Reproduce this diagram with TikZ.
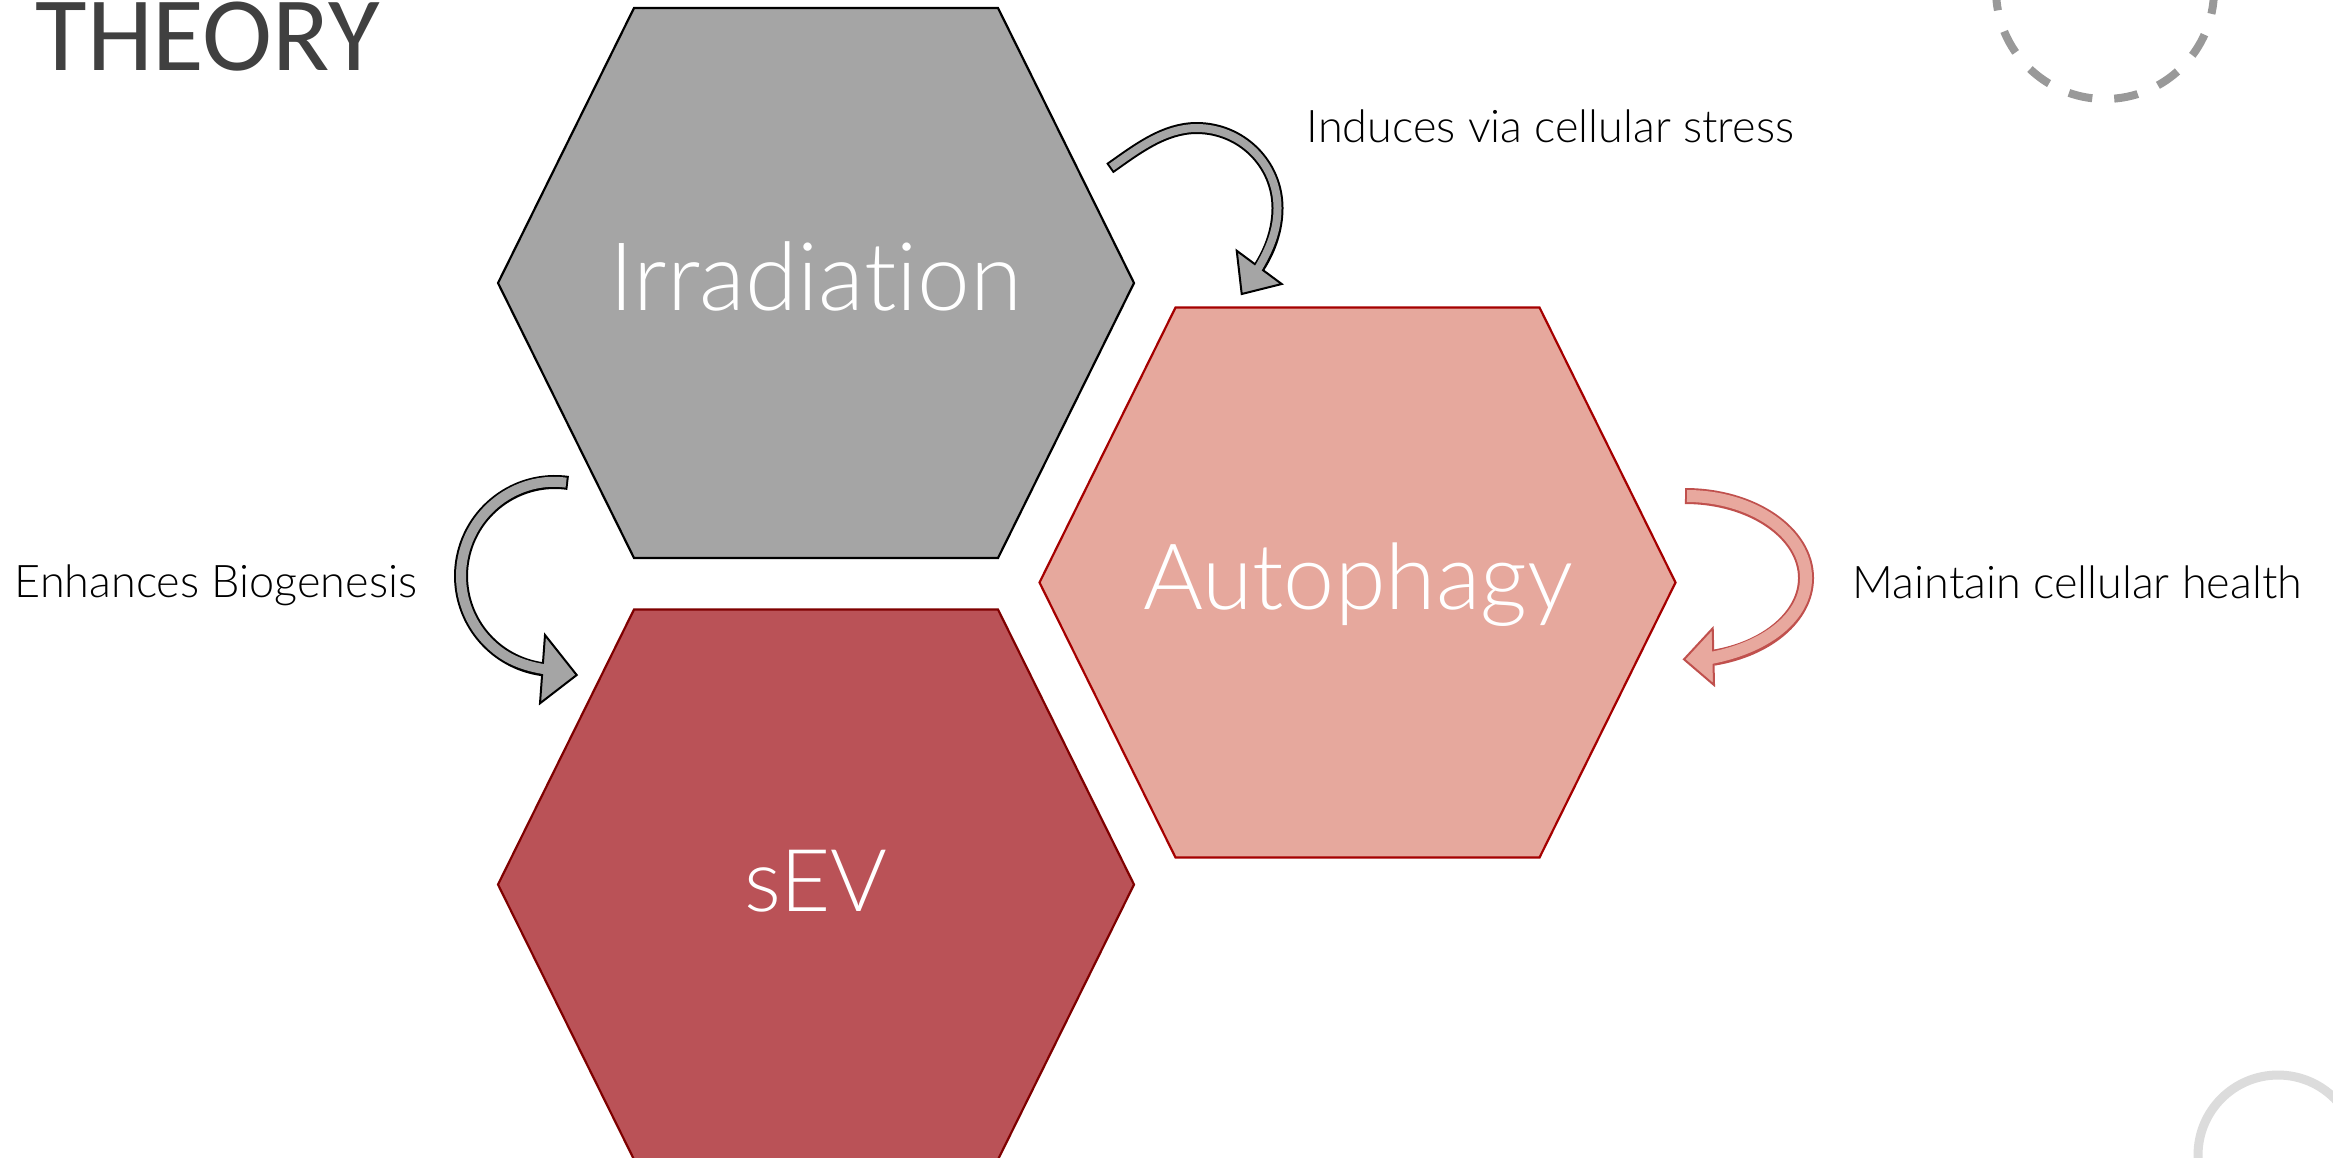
\documentclass[tikz,border=0pt]{standalone}
\usepackage{fontspec}
\setmainfont{Carlito}[Ligatures=NoCommon]
\newfontfamily\lightfont{Lato Light}[Ligatures=NoCommon]
\definecolor{irrfill}{HTML}{A5A5A5}
\definecolor{autofill}{HTML}{E6A89D}
\definecolor{autodraw}{HTML}{A50000}
\definecolor{sevfill}{HTML}{BA5257}
\definecolor{sevdraw}{HTML}{7F0000}
\definecolor{theorygray}{HTML}{404040}
\definecolor{dashgray}{HTML}{999999}
\definecolor{ringgray}{HTML}{DCDCDC}
\definecolor{loopdraw}{HTML}{C0504D}
\definecolor{loopfill}{HTML}{E8A89E}
\tikzset{
  hexa/.pic={\path[pic actions] (-318,0) -- (-182,-275) -- (182,-275) -- (318,0) -- (182,275) -- (-182,275) -- cycle;},
  hextext/.style={inner sep=0pt, anchor=base, text=white},
  lbl/.style={inner sep=0pt, anchor=base west, text=black, font=\lightfont\fontsize{13.5pt}{16pt}\selectfont},
  grayhead/.style={fill=irrfill, draw=black, line width=0.6pt, line join=miter},
  redhead/.style={fill=loopfill, draw=loopdraw, line width=0.6pt, line join=miter},
}
\begin{document}
\begin{tikzpicture}[x=0.3pt, y=-0.3pt]
\useasboundingbox (0,0) rectangle (2333,1157);
\clip (0,0) rectangle (2333,1157);
\fill[white] (0,0) rectangle (2333,1157);

% decorative circles
\draw[dashgray, line width=2.4pt, dash pattern=on 7.2pt off 6.6pt] (2105,-10) circle[radius=109];
\draw[ringgray, line width=2.7pt] (2278,1155) circle[radius=80];

% title
\node[inner sep=0pt, anchor=base west, text=theorygray, font=\fontsize{31.7pt}{36pt}\selectfont] (title) at (35,70) {THEORY};

% hexagons
\pic[fill=irrfill, draw=black, line width=0.66pt] at (816,283) {hexa};
\pic[fill=autofill, draw=autodraw, line width=0.66pt] at (1357.5,582.5) {hexa};
\pic[fill=sevfill, draw=sevdraw, line width=0.66pt] at (816,884.5) {hexa};

\node[hextext, font=\lightfont\fontsize{28.4pt}{34pt}\selectfont] (irr) at (816,310) {Irradiation};
\node[hextext, font=\lightfont\fontsize{27.5pt}{34pt}\selectfont] (auto) at (1358,609.5) {Autophagy};
\node[hextext, font=\lightfont\fontsize{26pt}{30pt}\selectfont] (sev) at (816,911) {sEV};

% arrow: Irradiation -> Autophagy
\coordinate (a1s) at (1109.7,168.3);
\coordinate (a1t) at (1196.7,128);
\coordinate (a1r) at (1277.5,208);
\coordinate (a1e) at (1258.6,268);
\draw[black, line width=3.6pt] (a1s) .. controls (1136.5,149.5) and (1164,128) .. (a1t) .. controls (1241.1,128) and (1277.5,163.6) .. (a1r) .. controls (1277.5,229.4) and (1270.3,250) .. (a1e);
\draw[grayhead] (1281.7,284) -- (1241.7,294) -- (1236.7,250.7) -- cycle;
\draw[irrfill, line width=2.4pt, shorten <=0.6pt, shorten >=-3pt] (a1s) .. controls (1136.5,149.5) and (1164,128) .. (a1t) .. controls (1241.1,128) and (1277.5,163.6) .. (a1r) .. controls (1277.5,229.4) and (1270.3,250) .. (a1e);

% arrow: Irradiation -> sEV
\coordinate (a2s) at (568.1,482.9);
\draw[black, line width=4.2pt] (a2s) arc[start angle=-82, end angle=-263, radius=94];
\draw[grayhead] (540,703.3) -- (576.7,675) -- (545,635) -- cycle;
\draw[irrfill, line width=3.0pt, shorten <=0.6pt, shorten >=-3pt] (a2s) arc[start angle=-82, end angle=-263, radius=94];

% arrow: Autophagy self loop
\coordinate (a3s) at (1685,496);
\draw[loopdraw, line width=4.8pt] (a3s) arc[start angle=-90, end angle=76.6, x radius=121, y radius=82];
\draw[redhead] (1714,685) -- (1684,659.3) -- (1712.7,628.3) -- cycle;
\draw[loopfill, line width=3.6pt, shorten <=0.6pt, shorten >=-3pt] (a3s) arc[start angle=-90, end angle=76.6, x radius=121, y radius=82];

% labels
\node[lbl] (l1) at (1306,142.7) {Induces via cellular stress};
\node[lbl] (l2) at (14,597.7) {Enhances Biogenesis};
\node[lbl] (l3) at (1852,598.3) {Maintain cellular health};
\end{tikzpicture}
\end{document}
